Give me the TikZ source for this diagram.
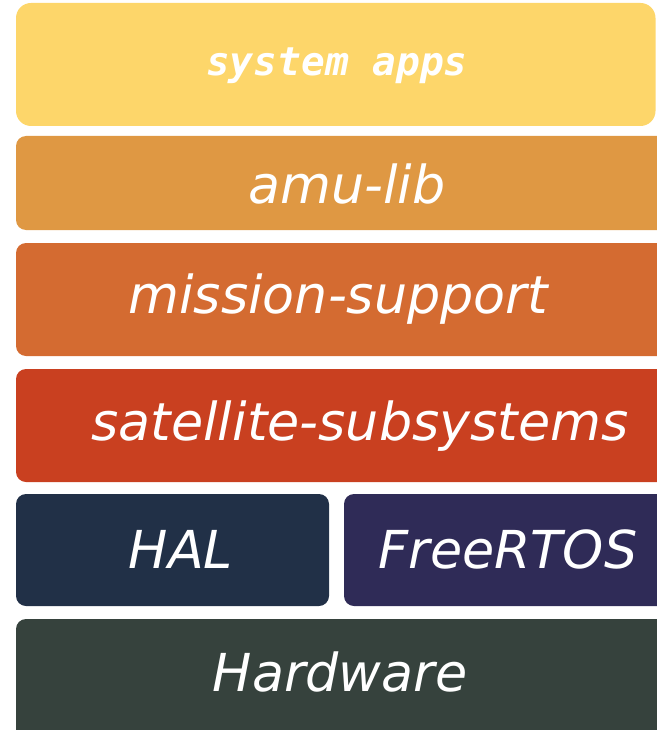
\documentclass[tikz,border=0pt]{standalone}
\usepackage{fontspec}
\setmainfont{DejaVu Sans}
\newfontfamily\layermono{DejaVu Sans Mono}
\usetikzlibrary{positioning}

\definecolor{appsyellow}{HTML}{FDD66A}
\definecolor{liborange}{HTML}{DF9843}
\definecolor{missionorange}{HTML}{D46B31}
\definecolor{satred}{HTML}{C94020}
\definecolor{halnavy}{HTML}{213047}
\definecolor{rtospurple}{HTML}{2F2B57}
\definecolor{hwgreen}{HTML}{36423D}

\tikzset{
  layer/.style={rounded corners=10pt},
  layertext/.style={text=white, font=\fontsize{52.3}{60}\selectfont\itshape, inner sep=0pt},
}

\begin{document}
\begin{tikzpicture}[x=1pt,y=-1pt]

    \useasboundingbox (0,0) rectangle (656,730);

    % stack of layers, top to bottom
    \fill[appsyellow, rounded corners=15pt] (16,3) rectangle (655.5,126);
    \fill[liborange, layer] (16,136) rectangle (670,230);
    \fill[missionorange, layer] (16,243) rectangle (670,356);
    \fill[satred, layer] (16,369) rectangle (670,482);
    \fill[halnavy, layer] (16,494) rectangle (329,606);
    \fill[rtospurple, layer] (344,494) rectangle (670,606);
    \fill[hwgreen, layer] (16,619) rectangle (670,745);

    \node[text=white, inner sep=0pt, font=\fontsize{39.5}{46}\layermono\bfseries\itshape] (apps) at (337,66) {system apps};
    \node[layertext] (amulib) at (347,184) {amu-lib};
    \node[layertext] (mission) at (338,299) {mission-support};
    \node[layertext] (sat) at (360,426) {satellite-subsystems};
    \node[layertext] (hal) at (181,549) {HAL};
    \node[layertext] (rtos) at (508,549) {FreeRTOS};
    \node[layertext] (hw) at (340,672) {Hardware};

\end{tikzpicture}
\end{document}
